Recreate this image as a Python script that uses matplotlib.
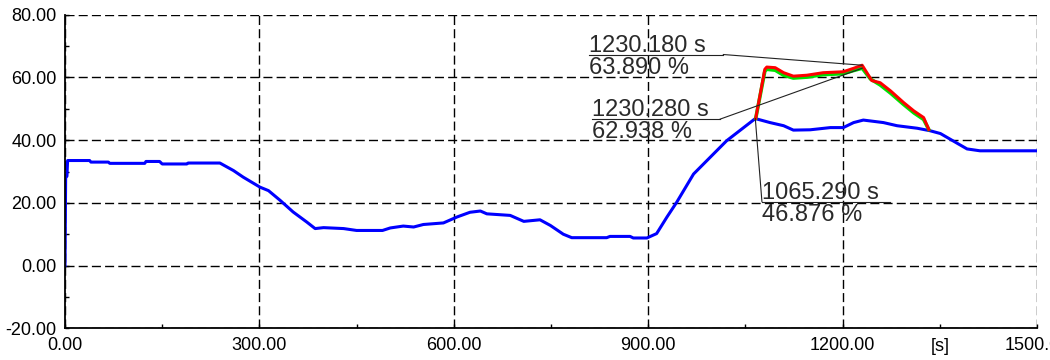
import matplotlib.pyplot as plt
import matplotlib.transforms as mtransforms
from matplotlib.ticker import MultipleLocator, FormatStrFormatter

# blue trace
blue_t = [0, 1, 3, 4, 38, 40, 67, 69, 123, 125, 146, 150, 188, 190, 239, 260,
          275, 301, 314, 332, 352, 373, 386, 399, 430, 450, 490, 502, 522, 538,
          553, 584, 605, 625, 641, 651, 687, 708, 733, 749, 769, 782, 836, 841,
          872, 877, 898, 913, 929, 944, 970, 1021, 1065.29, 1088, 1109, 1124,
          1150, 1181, 1201, 1217, 1232, 1263, 1284, 1315, 1335, 1351, 1366,
          1392, 1412, 1500]
blue_v = [0, 28, 28.5, 33.5, 33.5, 33.0, 33.0, 32.6, 32.6, 33.2, 33.2, 32.4,
          32.4, 32.7, 32.7, 30.3, 28.2, 25.0, 23.9, 20.8, 17.1, 13.9, 11.8, 12.1,
          11.8, 11.2, 11.2, 12.0, 12.6, 12.3, 13.1, 13.6, 15.5, 17.0, 17.4, 16.5,
          16.0, 14.1, 14.6, 12.8, 10.0, 8.9, 8.9, 9.3, 9.3, 8.8, 8.8, 10.2, 15.5,
          20.2, 29.2, 39.8, 46.876, 45.6, 44.6, 43.2, 43.3, 44.0, 44.0, 45.6,
          46.4, 45.6, 44.6, 43.8, 43.0, 42.1, 40.3, 37.2, 36.6, 36.6]

# red trace
red_t = [1066, 1080, 1083, 1096, 1109, 1124, 1145, 1170, 1201, 1217, 1230.18,
         1245, 1258, 1274, 1294, 1310, 1325, 1333]
red_v = [47.0, 62.6, 63.3, 63.1, 61.5, 60.4, 60.7, 61.5, 61.8, 62.9, 63.89,
         59.0, 58.3, 55.7, 52.0, 49.3, 47.2, 43.4]

# green trace
green_t = [1066, 1080, 1083, 1096, 1109, 1124, 1145, 1170, 1201, 1217, 1230.28,
           1243, 1258, 1274, 1294, 1310, 1325, 1333]
green_v = [47.0, 62.0, 62.6, 62.3, 60.7, 59.8, 60.1, 60.9, 61.2, 62.2, 62.938,
           59.5, 57.6, 55.0, 51.4, 48.7, 46.6, 43.4]

# cursor readouts: point, label underline start/end, underline height
cursor_pts = [(1230.18, 63.89), (1230.28, 62.938), (1065.29, 46.876)]
cursor_txt = [("1230.180 s", "63.890 %"), ("1230.280 s", "62.938 %"),
              ("1065.290 s", "46.876 %")]
label_x0 = [809, 813, 1075.5]
label_x1 = [1016, 1011, 1273.5]
label_y = [67.3, 46.7, 20.4]

plt.rcParams['font.family'] = ['Liberation Sans', 'DejaVu Sans']

fig = plt.figure(figsize=(10.5, 3.6), dpi=100)
ax = fig.add_axes([65 / 1050, 31.7 / 360, 972 / 1050, 313.6 / 360])

ax.plot(blue_t, blue_v, color='#0000ff', lw=2.2, zorder=3)
ax.plot(green_t, green_v, color='#00e000', lw=2.6, zorder=4)
ax.plot(red_t, red_v, color='#ff0000', lw=2.2, zorder=5)

ax.set_xlim(0, 1500)
ax.set_ylim(-20, 80)
ax.xaxis.set_major_locator(MultipleLocator(300))
ax.xaxis.set_minor_locator(MultipleLocator(150))
ax.yaxis.set_major_locator(MultipleLocator(20))
ax.yaxis.set_minor_locator(MultipleLocator(10))
ax.xaxis.set_major_formatter(FormatStrFormatter('%.2f'))
ax.yaxis.set_major_formatter(FormatStrFormatter('%.2f'))

ax.grid(True, which='major', color='black', lw=1.0, linestyle=(0, (6.5, 3)))
for s in ['top', 'right']:
    ax.spines[s].set_visible(False)
for s in ['left', 'bottom']:
    ax.spines[s].set_linewidth(1.3)
    ax.spines[s].set_zorder(6)

ax.tick_params(which='both', direction='in', length=3, width=1,
               labelsize=13, colors='black', pad=6)
ax.text(1350, -0.03, "[s]", transform=ax.get_xaxis_transform(),
        ha='center', va='top', fontsize=13)

up = mtransforms.offset_copy(ax.transData, fig=fig, x=0, y=3, units='dots')
down = mtransforms.offset_copy(ax.transData, fig=fig, x=0, y=-2, units='dots')
for (px, py), (l1, l2), x0, x1, y in zip(cursor_pts, cursor_txt,
                                         label_x0, label_x1, label_y):
    ax.plot([x0, x1], [y, y], color='#222222', lw=0.8, zorder=7)
    lx = x0 if px < x0 else x1
    ax.plot([lx, px], [y, py], color='#222222', lw=0.8, zorder=7)
    ax.text(x0, y, l1, transform=up, ha='left', va='baseline',
            fontsize=17, color='#2a2a2a', zorder=8)
    ax.text(x0, y, l2, transform=down, ha='left', va='top',
            fontsize=17, color='#2a2a2a', zorder=8)

fig.savefig('out.png', dpi=100)
